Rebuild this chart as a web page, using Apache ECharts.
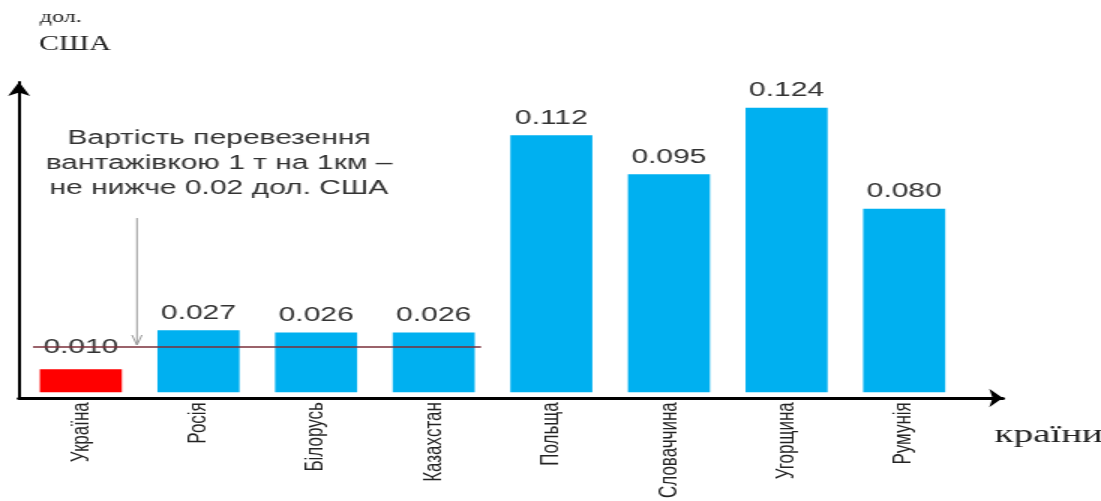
<!DOCTYPE html>
<html><head><meta charset="utf-8">
<script src="https://cdn.jsdelivr.net/npm/echarts@6/dist/echarts.min.js"></script>
<style>
html,body{margin:0;padding:0;background:#fff;overflow:hidden;width:1101px;height:501px}
/* the reference picture is horizontally stretched by ~1.5; render at 734px wide and stretch */
#c{width:734px;height:501px;transform:scaleX(1.5);transform-origin:0 0}
</style>
</head><body><div id="c"></div>
<script>
const categories = ['Україна','Росія','Білорусь','Казахстан','Польща','Словаччина','Угорщина','Румунія'];
const values = [0.010, 0.027, 0.026, 0.026, 0.112, 0.095, 0.124, 0.080];
const threshold = 0.02;
const barColors = ['#FF0000','#00B0F0','#00B0F0','#00B0F0','#00B0F0','#00B0F0','#00B0F0','#00B0F0'];
const note = ['Вартість перевезення','вантажівкою 1 т на 1км –','не нижче 0.02 дол. США'];
const yUnit = ['дол.','США'];
const xUnit = 'країни';

const chart = echarts.init(document.getElementById('c'));
chart.setOption({
  animation: false,
  backgroundColor: '#fff',
  grid: [
    {left: 14.7, right: 92, top: 71, bottom: 102},
    {left: 12.7, right: 65.5, top: 82, bottom: 103}
  ],
  xAxis: [
    {type: 'category', gridIndex: 0, data: categories,
     axisLine: {show: false}, axisTick: {show: false},
     axisLabel: {rotate: 90, margin: 10, fontFamily: 'Liberation Sans', fontSize: 17, color: '#222'}},
    {type: 'value', gridIndex: 1, min: 0, max: 1,
     axisLine: {show: true, lineStyle: {color: '#000', width: 3}, symbol: ['none','arrow'], symbolSize: [14, 9]},
     axisTick: {show: false}, axisLabel: {show: false}, splitLine: {show: false}}
  ],
  yAxis: [
    {type: 'value', gridIndex: 0, min: 0, max: 0.14,
     axisLine: {show: false}, axisTick: {show: false}, axisLabel: {show: false}, splitLine: {show: false}},
    {type: 'value', gridIndex: 1, min: 0, max: 1,
     axisLine: {show: true, lineStyle: {color: '#000', width: 2}, symbol: ['none','arrow'], symbolSize: [11, 14]},
     axisTick: {show: false}, axisLabel: {show: false}, splitLine: {show: false}}
  ],
  series: [{
    type: 'bar', xAxisIndex: 0, yAxisIndex: 0,
    data: values.map((v, i) => ({value: v, itemStyle: {color: barColors[i]},
      label: i === 0 ? {distance: 12} : undefined})),
    barWidth: 54.7,
    label: {show: true, position: 'top', distance: 7, formatter: p => p.value.toFixed(3),
            fontFamily: 'Liberation Sans', fontSize: 20, color: '#333'},
    markLine: {
      silent: true, symbol: ['none','none'],
      lineStyle: {color: '#7a2f3a', width: 1.5, type: 'solid'},
      label: {show: false},
      data: [[{x: 22, yAxis: threshold}, {x: 320.7, yAxis: threshold}]]
    },
    z: 2
  }],
  graphic: [
    {type: 'text', left: 26.5, top: 10, style: {text: yUnit[0], font: '16px "Liberation Serif"', fill: '#222'}},
    {type: 'text', left: 26, top: 35, style: {text: yUnit[1], font: '20px "Liberation Serif"', fill: '#222'}},
    {type: 'text', left: 663, top: 422, style: {text: xUnit, font: '26px "Liberation Serif"', fill: '#222'}},
    {type: 'text', x: 146, y: 126, style: {text: note.join('\n'), font: '20px "Liberation Sans"', fill: '#333', align: 'center', lineHeight: 25}},
    {type: 'line', shape: {x1: 91.3, y1: 218, x2: 91.3, y2: 345}, style: {stroke: '#999', lineWidth: 1}},
    {type: 'polyline', shape: {points: [[88, 335], [91.3, 345], [94.6, 335]]}, style: {stroke: '#999', lineWidth: 1, fill: null}}
  ]
});
</script></body></html>
